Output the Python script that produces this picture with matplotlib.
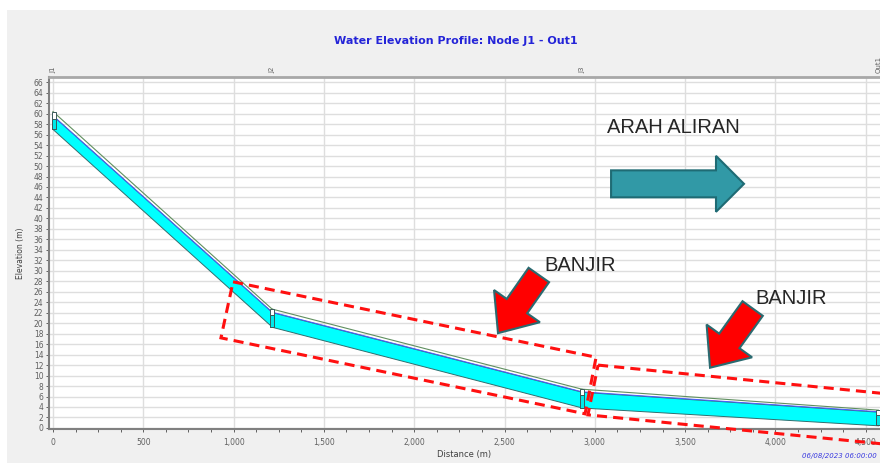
import numpy as np
import matplotlib
matplotlib.use("Agg")
import matplotlib.pyplot as plt
from matplotlib.patches import Polygon, Rectangle
from matplotlib.transforms import IdentityTransform, blended_transform_factory
from matplotlib.ticker import FuncFormatter, MultipleLocator

# profile data (distance in m, elevation in m)
node_names = ["J1", "J2", "J3", "Out1"]
node_dist = [0, 1213, 2929, 4570]
node_invert = [57.0, 19.3, 3.9, 0.5]
node_water = [59.6, 22.1, 6.9, 3.1]
node_crown = [60.4, 22.7, 7.4, 3.4]

# overlay annotations (data coords)
box1 = [(997, 27.9), (3007, 13.5), (2946, 2.7), (930, 17.2)]
box2 = [(3018, 12.0), (5000, 5.2), (4962, -4.3), (2962, 2.5)]
flow_arrow = [(3090, 46.6), (3826, 46.6)]
flood_arrows = [[(2690, 29.2), (2464, 18.1)], [(3874, 22.8), (3638, 11.5)]]
flood_labels = [(2719, 31.1), (3887, 24.8)]
flow_label = (3067, 57.4)

W, H = 880, 463
fig = plt.figure(figsize=(W / 100, H / 100), dpi=100, facecolor="white")
fig.patches.append(Rectangle((7 / W, 0), 1, 1 - 10 / H, transform=fig.transFigure,
                             facecolor="#f0f0f0", edgecolor="none", zorder=-10))

ax = fig.add_axes([49 / W, 34 / H, 831 / W, 352 / H])
ax.set_facecolor("white")
ax.set_xlim(-22, 4579)
ax.set_ylim(-0.2, 67)

ax.yaxis.set_major_locator(MultipleLocator(2))
ax.xaxis.set_major_locator(MultipleLocator(500))
ax.xaxis.set_minor_locator(MultipleLocator(125))
ax.xaxis.set_major_formatter(FuncFormatter(lambda v, p: f"{int(v):,}"))
ax.grid(True, which="major", color="#dedede", lw=1)
ax.set_axisbelow(True)
ax.tick_params(axis="both", which="both", labelsize=5.5, colors="#606060",
               length=2.5, width=0.7, pad=1.5)
ax.tick_params(axis="x", which="major", pad=4)
for s in ["left", "bottom"]:
    ax.spines[s].set_color("#808080")
    ax.spines[s].set_linewidth(1.5)
ax.spines["top"].set_color("#a8a8a8")
ax.spines["top"].set_linewidth(2)
ax.spines["right"].set_visible(False)

ax.set_ylabel("Elevation (m)", fontsize=5.5, color="#404040", labelpad=6)
ax.set_xlabel("Distance (m)", fontsize=6, color="#404040", labelpad=2)
ax.set_title("Water Elevation Profile: Node J1 - Out1", fontsize=8, fontweight="bold",
             color="#2424d8", pad=24, x=0.49)

# conduits
for i in range(len(node_dist) - 1):
    xs = [node_dist[i], node_dist[i + 1]]
    ax.fill_between(xs, [node_invert[i], node_invert[i + 1]],
                    [node_water[i], node_water[i + 1]],
                    facecolor="#00ffff", edgecolor="#2f6f6f", lw=0.7, zorder=3)
    ax.plot(xs, [node_water[i], node_water[i + 1]], color="#4a5cff", lw=0.7, zorder=4)
    ax.plot(xs, [node_crown[i], node_crown[i + 1]], color="#5f8f5f", lw=0.8, zorder=4)

# nodes
node_w = 22
for d, inv, wat, cr in zip(node_dist, node_invert, node_water, node_crown):
    x0 = d - node_w / 2 if d > 0 else d - 8
    ax.add_patch(Rectangle((x0, inv), node_w, cr - inv, facecolor="white",
                           edgecolor="#3a5a5a", lw=0.7, zorder=5))
    ax.add_patch(Rectangle((x0, inv), node_w, wat - inv - 0.6, facecolor="#00e8e8",
                           edgecolor="#3a5a5a", lw=0.7, zorder=6))

# node labels on top
tr = blended_transform_factory(ax.transData, ax.transAxes)
for name, d in zip(node_names, node_dist):
    ax.text(d, 1.012, name, transform=tr, rotation=90, fontsize=5, color="#606060",
            ha="center", va="bottom", clip_on=False)

# dashed flood boxes
for box in [box1, box2]:
    ax.add_patch(Polygon(box, closed=True, fill=False, edgecolor="#ff1010", lw=2.2,
                         linestyle=(0, (3.3, 2)), zorder=8, clip_on=False))


def block_arrow(tail, tip, body_w, head_w, head_len, face, edge):
    p0 = ax.transData.transform(tail)
    p1 = ax.transData.transform(tip)
    d = p1 - p0
    u = d / np.hypot(*d)
    n = np.array([-u[1], u[0]])
    base = p1 - u * head_len
    pts = [p0 + n * body_w / 2, base + n * body_w / 2, base + n * head_w / 2, p1,
           base - n * head_w / 2, base - n * body_w / 2, p0 - n * body_w / 2]
    ax.add_patch(Polygon(pts, closed=True, transform=IdentityTransform(),
                         facecolor=face, edgecolor=edge, lw=1.5, zorder=9, clip_on=False))


block_arrow(flow_arrow[0], flow_arrow[1], 27, 56, 28, "#3199a6", "#1f6b74")
for tail, tip in flood_arrows:
    block_arrow(tail, tip, 25, 56, 33, "#ff0000", "#2a6a70")

ax.text(flow_label[0], flow_label[1], "ARAH ALIRAN", fontsize=14.5, color="#262626",
        family="Liberation Sans", ha="left", va="center", zorder=10)
for x, y in flood_labels:
    ax.text(x, y, "BANJIR", fontsize=14.5, color="#262626", family="Liberation Sans",
            ha="left", va="center", zorder=10)

fig.text(877 / W, 1 - 456 / H, "06/08/2023 06:00:00", fontsize=5, style="italic",
         color="#3a3ae0", ha="right", va="center")

fig.savefig("out.png", dpi=100)
